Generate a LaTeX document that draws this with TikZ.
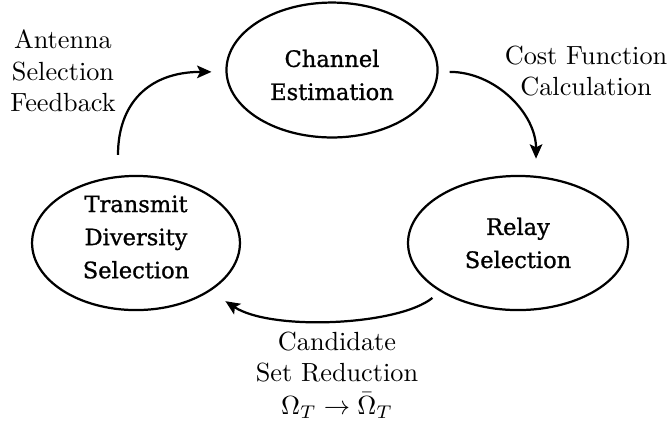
\documentclass[tikz,border=0pt]{standalone}
\usepackage{fontspec}
\newfontfamily\stagefont[FakeBold=1]{DejaVu Serif}
\usetikzlibrary{shapes.geometric,arrows.meta}
\begin{document}
\begin{tikzpicture}[x=0.381pt,y=-0.381pt,
  stage/.style={ellipse, draw, line width=0.85pt, inner sep=0pt},
  stagetext/.style={align=center, inner sep=0pt,
    font=\stagefont\fontsize{8.6pt}{12.6pt}\selectfont},
  note/.style={align=center, inner sep=0pt, font=\fontsize{10pt}{12pt}\selectfont},
  flow/.style={line width=0.85pt, -{Stealth[length=5.5pt,width=4.8pt,inset=1.2pt]}}]
\useasboundingbox (0,0) rectangle (672,428);

% the three stages of the loop
\node[stage, minimum width=80.4pt, minimum height=51.4pt] (ce) at (332,70) {};
\node[stage, minimum width=83.8pt, minimum height=51.1pt] (rs) at (518,243) {};
\node[stage, minimum width=79.2pt, minimum height=51.1pt] (td) at (136,243) {};
\node[stagetext] (ce-text) at (332,75) {Channel\\Estimation};
\node[stagetext] (rs-text) at (518,243) {Relay\\Selection};
\node[stagetext] (td-text) at (136,237) {Transmit\\Diversity\\Selection};

% transitions between stages
\draw[flow, shorten <=8pt, shorten >=5.3pt]
  (td.105) .. controls +(0,-72) and +(-77,0) .. (ce.181);
\draw[flow, shorten <=4.2pt, shorten >=6.5pt]
  (ce.-1) .. controls +(57,0) and +(0,-62) .. (rs.75);
\draw[flow, shorten <=3.8pt, shorten >=6.9pt]
  (rs.212) .. controls +(-42,34) and +(61,40) .. (td.-33);

% transition labels
\node[note] (fb) at (63,71) {Antenna\\Selection\\Feedback};
\node[note] (cf) at (586,71) {Cost Function\\Calculation};
\node[note] (cr) at (337,375) {Candidate\\Set Reduction\\[0.6pt]$\Omega_T \rightarrow \bar{\Omega}_T$};
\end{tikzpicture}
\end{document}
